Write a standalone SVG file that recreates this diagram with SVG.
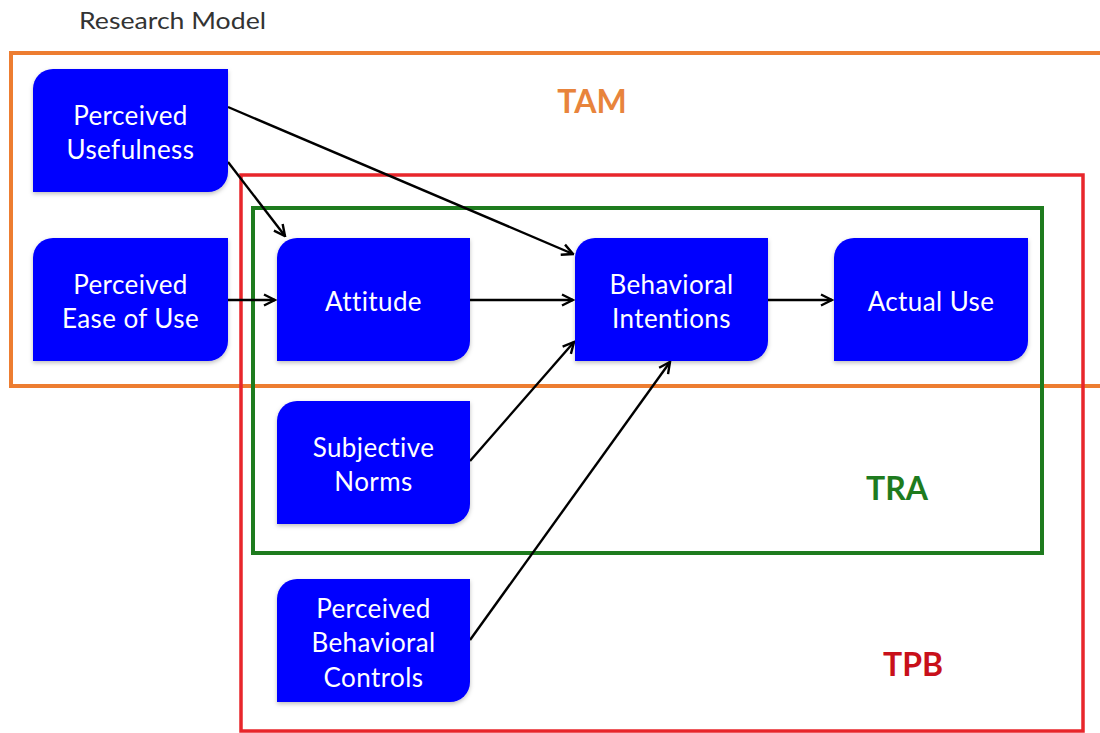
<svg xmlns="http://www.w3.org/2000/svg" width="1100" height="733" viewBox="0 0 1100 733">
  <defs>
    <marker id="arrow" viewBox="0 0 14 14" refX="12.5" refY="7" markerWidth="14" markerHeight="14" markerUnits="userSpaceOnUse" orient="auto">
      <path d="M1.5,1.5 L12.5,7 L1.5,12.5" fill="none" stroke="#000" stroke-width="2.4" stroke-linejoin="miter"/>
    </marker>
    <filter id="shadow" x="-10%" y="-10%" width="120%" height="130%">
      <feDropShadow dx="0" dy="2" stdDeviation="2" flood-color="#000" flood-opacity="0.25"/>
    </filter>
  </defs>
  <style>
    .frame { fill: none; }
    .node { fill: #0000FF; filter: url(#shadow); }
    .label { font-family: Lato, "Open Sans", sans-serif; font-size: 26px; letter-spacing: 0.4px; fill: #FFFFFF; text-anchor: middle; }
    .tag { font-family: Lato, "Open Sans", sans-serif; font-size: 32px; font-weight: bold; text-anchor: middle; }
    .edge { fill: none; stroke: #000; stroke-width: 2.4; marker-end: url(#arrow); }
  </style>
  <rect width="1100" height="733" fill="#FFFFFF"/>

  <text x="79" y="29" font-family="Lato, 'Open Sans', sans-serif" font-size="23" fill="#333333" textLength="187" lengthAdjust="spacingAndGlyphs">Research Model</text>

  <!-- theory frames -->
  <g id="frames">
    <rect class="frame" x="11" y="53" width="1100" height="333" stroke="#ED7D31" stroke-width="4"/>
    <rect class="frame" x="241" y="175" width="842" height="556" stroke="#E8262B" stroke-width="3.5"/>
    <rect class="frame" x="253" y="208" width="789" height="345" stroke="#1E7B1E" stroke-width="4"/>
    <text class="tag" x="592" y="113" fill="#E8843C" font-size="34">TAM</text>
    <text class="tag" x="897" y="500" fill="#1E7B1E">TRA</text>
    <text class="tag" x="913" y="676" fill="#C8101A">TPB</text>
  </g>

  <!-- connectors -->
  <g id="connectors">
    <line class="edge" x1="228" y1="107" x2="573" y2="254"/>
    <line class="edge" x1="228" y1="162" x2="285" y2="236"/>
    <line class="edge" x1="228" y1="300" x2="275" y2="300"/>
    <line class="edge" x1="470" y1="300" x2="573" y2="300"/>
    <line class="edge" x1="470" y1="461" x2="574" y2="342"/>
    <line class="edge" x1="470" y1="640" x2="670" y2="362"/>
    <line class="edge" x1="768" y1="300" x2="832" y2="300"/>
  </g>

  <!-- nodes: rounded top-left and bottom-right corners -->
  <g id="perceived-usefulness">
    <path class="node" d="M53,69 H228 V172 A20,20 0 0 1 208,192 H33 V89 A20,20 0 0 1 53,69 Z"/>
    <text class="label" x="130.5" y="125">Perceived</text>
    <text class="label" x="130.5" y="159">Usefulness</text>
  </g>
  <g id="perceived-ease-of-use">
    <path class="node" d="M53,238 H228 V341 A20,20 0 0 1 208,361 H33 V258 A20,20 0 0 1 53,238 Z"/>
    <text class="label" x="130.5" y="294">Perceived</text>
    <text class="label" x="130.5" y="328">Ease of Use</text>
  </g>
  <g id="attitude">
    <path class="node" d="M297,238 H470 V341 A20,20 0 0 1 450,361 H277 V258 A20,20 0 0 1 297,238 Z"/>
    <text class="label" x="373.5" y="311">Attitude</text>
  </g>
  <g id="behavioral-intentions">
    <path class="node" d="M595,238 H768 V341 A20,20 0 0 1 748,361 H575 V258 A20,20 0 0 1 595,238 Z"/>
    <text class="label" x="671.5" y="294">Behavioral</text>
    <text class="label" x="671.5" y="328">Intentions</text>
  </g>
  <g id="actual-use">
    <path class="node" d="M854,238 H1028 V341 A20,20 0 0 1 1008,361 H834 V258 A20,20 0 0 1 854,238 Z"/>
    <text class="label" x="931" y="311">Actual Use</text>
  </g>
  <g id="subjective-norms">
    <path class="node" d="M297,401 H470 V504 A20,20 0 0 1 450,524 H277 V421 A20,20 0 0 1 297,401 Z"/>
    <text class="label" x="373.5" y="457">Subjective</text>
    <text class="label" x="373.5" y="491">Norms</text>
  </g>
  <g id="perceived-behavioral-controls">
    <path class="node" d="M297,579 H470 V682 A20,20 0 0 1 450,702 H277 V599 A20,20 0 0 1 297,579 Z"/>
    <text class="label" x="373.5" y="618">Perceived</text>
    <text class="label" x="373.5" y="652">Behavioral</text>
    <text class="label" x="373.5" y="687">Controls</text>
  </g>
</svg>
